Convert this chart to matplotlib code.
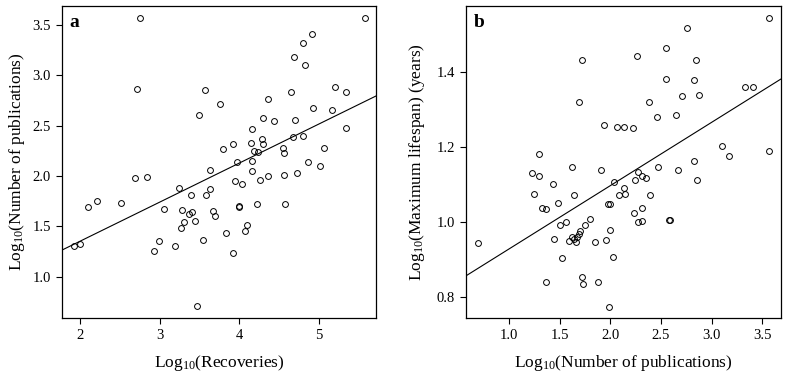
import numpy as np
import matplotlib
matplotlib.use("Agg")
import matplotlib.pyplot as plt

plt.rcParams["font.family"] = ["Liberation Serif", "DejaVu Serif"]
plt.rcParams["mathtext.fontset"] = "custom"
plt.rcParams["mathtext.rm"] = "Liberation Serif"
plt.rcParams["mathtext.default"] = "regular"

# Panel a: log10(recoveries) vs log10(number of publications)
recoveries = [2.745, 2.71, 2.686, 2.845,
              1.918, 1.99, 2.103, 2.216, 2.506, 3.239, 3.05, 2.987, 2.925, 3.189,
              5.583, 4.92, 4.80, 4.686, 4.83, 3.57, 5.21, 5.34, 4.648, 4.355,
              3.763, 3.499, 4.933, 5.164, 4.296, 4.438, 4.698, 4.166, 5.34, 4.283,
              4.30, 4.677, 4.80, 3.789, 3.922, 4.141, 4.182, 4.233, 4.547, 4.56,
              5.067, 3.965, 4.166, 3.629, 4.87, 5.021, 4.166, 3.94, 4.028, 4.262,
              4.367, 4.568, 4.727, 3.629,
              3.39, 3.587, 3.281, 3.369, 3.40, 3.302, 3.273, 3.44, 3.671, 3.70,
              3.998, 4.0, 4.224, 4.576, 3.541, 3.83, 4.094, 4.078, 3.922, 3.469]
pubs_a = [3.566, 2.862, 1.985, 1.992,
          1.305, 1.324, 1.694, 1.751, 1.731, 1.886, 1.675, 1.36, 1.258, 1.305,
          3.566, 3.408, 3.325, 3.18, 3.103, 2.852, 2.882, 2.835, 2.835, 2.763,
          2.713, 2.604, 2.68, 2.654, 2.577, 2.551, 2.561, 2.465, 2.475, 2.366,
          2.323, 2.392, 2.402, 2.273, 2.316, 2.326, 2.253, 2.24, 2.283, 2.233,
          2.28, 2.141, 2.148, 2.065, 2.141, 2.098, 2.049, 1.952, 1.92, 1.962,
          2.002, 2.012, 2.029, 1.873,
          1.817, 1.817, 1.665, 1.628, 1.642, 1.539, 1.483, 1.556, 1.655, 1.605,
          1.704, 1.69, 1.724, 1.724, 1.364, 1.437, 1.513, 1.453, 1.235, 0.705]
fit_a = (0.3876, 0.579)  # slope, intercept

# Panel b: log10(number of publications) vs log10(maximum lifespan)
pubs_b = [1.724, 1.691, 1.296, 1.622, 1.227, 1.299, 1.431,
          3.57, 2.757, 2.553, 2.264, 2.843, 2.547, 2.829, 3.327, 3.412, 2.711,
          2.873, 2.385, 2.458, 2.646, 1.935, 2.063, 2.132, 2.227, 3.10, 3.169,
          3.564, 2.829, 2.474, 1.905, 2.668, 2.276, 2.316, 2.355, 2.247, 2.853,
          2.04, 2.132,
          0.697, 1.25, 1.642, 1.481, 1.323, 1.362, 1.503, 1.56, 1.447,
          1.70, 1.694, 1.674, 1.645, 1.625, 1.592, 1.661, 1.75, 1.80, 1.523,
          1.362, 1.718, 1.731,
          2.089, 2.142, 2.392, 1.98, 2.0, 2.237, 2.316, 2.276, 2.313, 2.58,
          2.59, 1.994, 1.849, 1.958, 2.024, 1.876, 1.984]
lifespan = [1.432, 1.322, 1.183, 1.147, 1.133, 1.123, 1.103,
            1.544, 1.519, 1.464, 1.444, 1.432, 1.382, 1.379, 1.362, 1.362, 1.337,
            1.339, 1.32, 1.28, 1.287, 1.259, 1.255, 1.255, 1.251, 1.205, 1.178,
            1.19, 1.165, 1.149, 1.139, 1.141, 1.135, 1.124, 1.119, 1.113, 1.113,
            1.107, 1.091,
            0.946, 1.077, 1.074, 1.052, 1.039, 1.035, 0.993, 1.0, 0.956,
            0.978, 0.969, 0.96, 0.955, 0.96, 0.951, 0.947, 0.994, 1.01, 0.906,
            0.842, 0.854, 0.835,
            1.074, 1.077, 1.074, 1.049, 1.049, 1.026, 1.038, 1.002, 1.005, 1.006,
            1.006, 0.979, 0.949, 0.952, 0.907, 0.842, 0.774]
fit_b = (0.1688, 0.7604)

fig = plt.figure(figsize=(7.87, 3.78), dpi=100)
ax1 = fig.add_axes([0.0788, 0.1587, 0.399, 0.8254])
ax2 = fig.add_axes([0.5925, 0.1587, 0.3995, 0.8254])


def panel(ax, x, y, fit, xlim, ylim, xticks, yticks, xfmt, yfmt, xlabel, ylabel, letter, ypad):
    ax.plot(x, y, "o", ms=4.2, mfc="none", mec="black", mew=0.7)
    xs = np.array(xlim)
    ax.plot(xs, fit[0] * xs + fit[1], color="black", lw=0.8)
    ax.set_xlim(xlim)
    ax.set_ylim(ylim)
    ax.set_xticks(xticks)
    ax.set_yticks(yticks)
    ax.set_xticklabels([xfmt.format(t) for t in xticks])
    ax.set_yticklabels([yfmt.format(t) for t in yticks])
    ax.tick_params(direction="out", length=4, width=0.8, labelsize=10.5, pad=4)
    for s in ax.spines.values():
        s.set_linewidth(0.9)
    ax.set_xlabel(xlabel, fontsize=12.5, labelpad=8)
    ax.set_ylabel(ylabel, fontsize=12.5, labelpad=ypad)
    ax.text(0.025, 0.975, letter, transform=ax.transAxes, va="top", ha="left",
            fontsize=14, fontweight="bold")


panel(ax1, recoveries, pubs_a, fit_a, (1.77, 5.72), (0.59, 3.69),
      [2, 3, 4, 5], [1.0, 1.5, 2.0, 2.5, 3.0, 3.5], "{:.0f}", "{:.1f}",
      r"Log$_{10}$(Recoveries)", r"Log$_{10}$(Number of publications)", "a", 4)
panel(ax2, pubs_b, lifespan, fit_b, (0.578, 3.682), (0.745, 1.577),
      [1.0, 1.5, 2.0, 2.5, 3.0, 3.5], [0.8, 1.0, 1.2, 1.4], "{:.1f}", "{:.1f}",
      r"Log$_{10}$(Number of publications)", r"Log$_{10}$(Maximum lifespan) (years)", "b", 7)

fig.savefig("out.png", dpi=100)
